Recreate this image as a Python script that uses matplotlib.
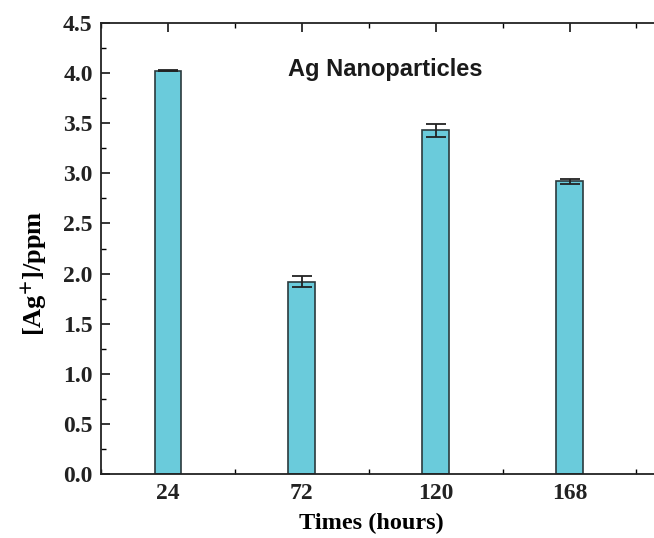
import matplotlib.pyplot as plt
from matplotlib.ticker import MultipleLocator
import numpy as np

# datos
horas = ["24", "72", "120", "168"]
ag_ppm = [4.02, 1.92, 3.43, 2.92]
error = [0.006, 0.058, 0.065, 0.023]

serif = ["Liberation Serif", "DejaVu Serif"]
plt.rcParams["mathtext.fontset"] = "stix"

fig = plt.figure(figsize=(6.54, 5.38), dpi=100)
ax = fig.add_axes([0.1544, 0.1184, 0.87, 0.8394])

x = np.arange(len(horas))
ax.bar(x, ag_ppm, width=0.2, color="#6ACBDB", edgecolor="#2b3a3d", linewidth=1.2,
       yerr=error, capsize=7.5, error_kw=dict(elinewidth=1.3, capthick=1.3, ecolor="#222222"),
       zorder=2)

ax.set_xlim(-0.5, 3.75)
ax.set_ylim(0, 4.5)
ax.set_xticks(x)
ax.set_xticklabels(horas)
ax.xaxis.set_minor_locator(MultipleLocator(0.5))
ax.yaxis.set_major_locator(MultipleLocator(0.5))
ax.yaxis.set_minor_locator(MultipleLocator(0.25))

ax.tick_params(axis="both", which="major", direction="in", length=6.5, width=1.1,
               top=True, right=True, labelsize=17, pad=6)
ax.tick_params(axis="both", which="minor", direction="in", length=3.5, width=1.0,
               top=True, right=True)
for lab in ax.get_xticklabels() + ax.get_yticklabels():
    lab.set_family(serif)
    lab.set_fontweight("bold")
    lab.set_color("#222222")

for s in ax.spines.values():
    s.set_linewidth(1.3)
    s.set_color("#222222")

ax.set_xlabel("Times (hours)", family=serif, fontweight="bold", fontsize=17.5)
ax.xaxis.set_label_coords(0.476, -0.085)
ax.set_ylabel(r"[Ag$^{\mathbf{+}}$]/ppm", family=serif, fontweight="bold", fontsize=19)
ax.yaxis.set_label_coords(-0.092, 0.446)

ax.text(1.62, 4.03, "Ag Nanoparticles", family=["Liberation Sans", "DejaVu Sans"],
        fontweight="bold", fontsize=17, ha="center", va="center", color="#1a1a1a")

fig.savefig("out.png", dpi=100)
